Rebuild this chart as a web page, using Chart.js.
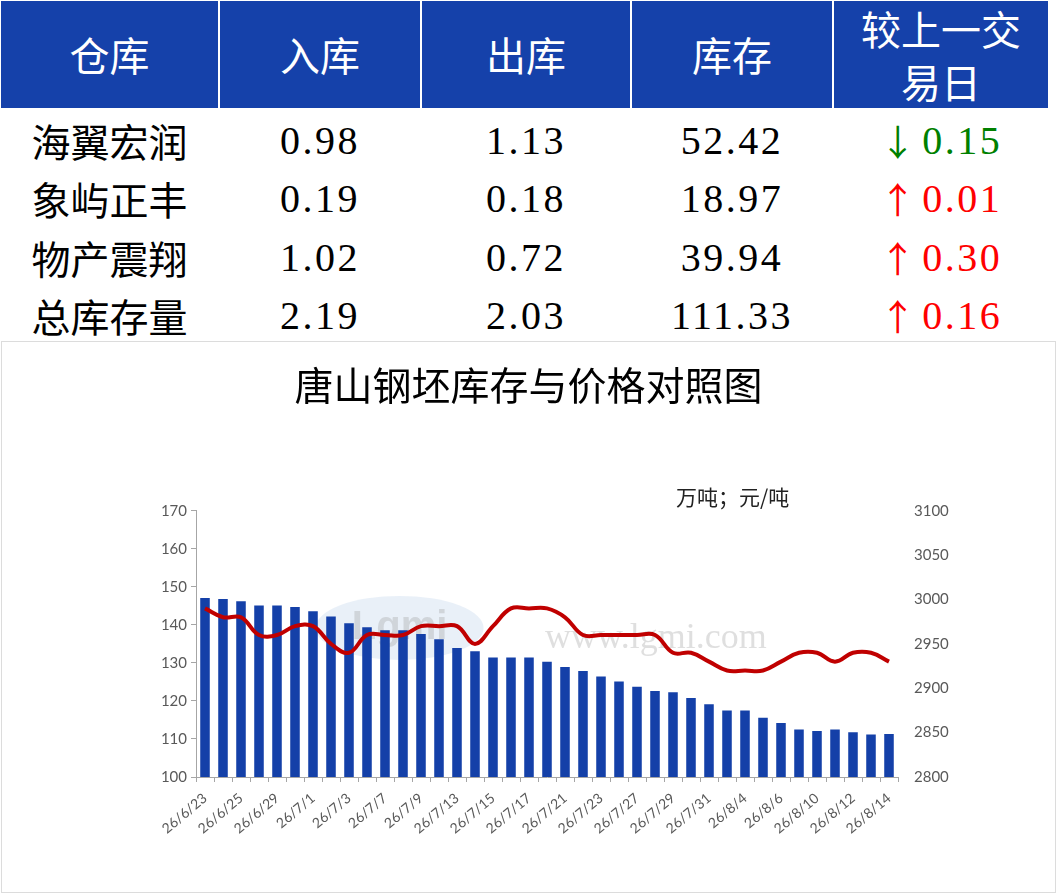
<!DOCTYPE html>
<html>
<head>
<meta charset="utf-8">
<script src="https://cdn.jsdelivr.net/npm/chart.js@4"></script>
<style>
  body { margin: 0; background: #fff; width: 1057px; height: 895px; position: relative; overflow: hidden; }
  .cell { position: absolute; display: flex; align-items: center; justify-content: center; text-align: center; }
  .head { background: #1541aa; color: #fff; font-family: "Noto Sans CJK SC", sans-serif; font-size: 40px; line-height: 53px; top: 1px; height: 107px; }
  .name { font-family: "Noto Sans CJK SC", sans-serif; font-size: 39px; color: #000; }
  .num { font-family: "Liberation Serif", serif; font-size: 40px; letter-spacing: 2.5px; color: #000; }
  .up { color: #ff0000; }
  .down { color: #008000; }
  .arrow { font-family: "Noto Sans CJK SC", sans-serif; font-size: 36px; margin-right: 4px; }
  #box { position: absolute; left: 1px; top: 341px; width: 1053px; height: 550px; border: 1px solid #dcdcdc; }
</style>
</head>
<body>
<div id="table"></div>
<div id="box"><canvas id="chart"></canvas></div>
<script>
// table data
const headers = ['仓库', '入库', '出库', '库存', '较上一交<br>易日'];
const warehouses = ['海翼宏润', '象屿正丰', '物产震翔', '总库存量'];
const inbound = ['0.98', '0.19', '1.02', '2.19'];
const outbound = ['1.13', '0.18', '0.72', '2.03'];
const inventory = ['52.42', '18.97', '39.94', '111.33'];
const change = [-0.15, 0.01, 0.30, 0.16];

// chart data
const dates = ['26/6/23', '26/6/24', '26/6/25', '26/6/26', '26/6/29', '26/6/30',
  '26/7/1', '26/7/2', '26/7/3', '26/7/6', '26/7/7', '26/7/8', '26/7/9', '26/7/10',
  '26/7/13', '26/7/14', '26/7/15', '26/7/16', '26/7/17', '26/7/20', '26/7/21',
  '26/7/22', '26/7/23', '26/7/24', '26/7/27', '26/7/28', '26/7/29', '26/7/30',
  '26/7/31', '26/8/3', '26/8/4', '26/8/5', '26/8/6', '26/8/7', '26/8/10',
  '26/8/11', '26/8/12', '26/8/13', '26/8/14'];
const stock = [147.1, 146.8, 146.2, 145.1, 145.1, 144.7, 143.6, 142.2, 140.4, 139.4,
  138.6, 138.6, 137.6, 136.2, 133.9, 133.1, 131.4, 131.4, 131.4, 130.3,
  128.9, 127.9, 126.4, 125.1, 123.7, 122.6, 122.3, 120.8, 119.1, 117.5,
  117.5, 115.6, 114.2, 112.5, 112.1, 112.5, 111.8, 111.17, 111.33];
const price = [2990, 2980, 2980, 2960, 2960, 2970, 2970, 2950, 2940, 2960,
  2960, 2960, 2970, 2970, 2970, 2950, 2970, 2990, 2990, 2990,
  2980, 2960, 2960, 2960, 2960, 2960, 2940, 2940, 2930, 2920,
  2920, 2920, 2930, 2940, 2940, 2930, 2940, 2940, 2930];

// build the table
const colX = [1, 220, 422, 632, 834];
const colW = [217, 200, 208, 200, 214];
const rowTop = [111, 169, 228, 286];
const rowH = 58;
const tbl = document.getElementById('table');
let html = '';
headers.forEach(function (h, i) {
  html += '<div class="cell head" style="left:' + colX[i] + 'px;width:' + colW[i] + 'px">' + h + '</div>';
});
warehouses.forEach(function (w, r) {
  const top = rowTop[r];
  const vals = [inbound[r], outbound[r], inventory[r]];
  html += '<div class="cell name" style="left:' + colX[0] + 'px;width:' + colW[0] + 'px;top:' + top + 'px;height:' + rowH + 'px">' + w + '</div>';
  vals.forEach(function (v, k) {
    html += '<div class="cell num" style="left:' + colX[k + 1] + 'px;width:' + colW[k + 1] + 'px;top:' + top + 'px;height:' + rowH + 'px">' + v + '</div>';
  });
  const c = change[r];
  const cls = c < 0 ? 'down' : 'up';
  const arr = c < 0 ? '↓' : '↑';
  html += '<div class="cell num ' + cls + '" style="left:' + colX[4] + 'px;width:' + colW[4] + 'px;top:' + top + 'px;height:' + rowH + 'px"><span class="arrow">' + arr + '</span>' + Math.abs(c).toFixed(2) + '</div>';
});
tbl.innerHTML = html;

// unit label and watermark
const extras = {
  id: 'extras',
  beforeDatasetsDraw(chart) {
    const ctx = chart.ctx;
    const a = chart.chartArea;
    const cx = a.left + (a.right - a.left) * 0.29;
    const cy = a.top + (a.bottom - a.top) * 0.44;
    ctx.save();
    ctx.fillStyle = 'rgba(120,160,210,0.16)';
    ctx.beginPath();
    ctx.ellipse(cx, cy, 84, 32, 0, 0, Math.PI * 2);
    ctx.fill();
    ctx.font = 'bold 40px "Liberation Sans", sans-serif';
    ctx.textAlign = 'center';
    ctx.textBaseline = 'middle';
    ctx.fillStyle = 'rgba(150,150,150,0.3)';
    ctx.fillText('Lgmi', cx, cy);
    ctx.font = '36px "Liberation Serif", serif';
    ctx.fillStyle = 'rgba(150,150,150,0.3)';
    ctx.fillText('www.lgmi.com', a.left + (a.right - a.left) * 0.655, a.top + (a.bottom - a.top) * 0.48);
    ctx.restore();
  },
  afterDraw(chart) {
    const ctx = chart.ctx;
    const a = chart.chartArea;
    ctx.save();
    ctx.font = '21px "Noto Sans CJK SC", sans-serif';
    ctx.fillStyle = '#222';
    ctx.textAlign = 'left';
    ctx.textBaseline = 'middle';
    ctx.fillText('万吨；元/吨', a.right - 222, a.top - 14);
    ctx.restore();
  }
};

const axisGray = '#a6a6a6';
const tickFont = { family: 'Lato, sans-serif', size: 15 };

const canvas = document.getElementById('chart');
const myChart = new Chart(canvas, {
  type: 'bar',
  data: {
    labels: dates,
    datasets: [{
      label: '库存',
      data: stock,
      yAxisID: 'y',
      backgroundColor: '#1440a8',
      barPercentage: 0.53,
      categoryPercentage: 1,
      order: 2
    }, {
      type: 'line',
      label: '价格',
      data: price,
      yAxisID: 'y1',
      borderColor: '#c00000',
      borderWidth: 4,
      tension: 0.4,
      pointRadius: 0,
      fill: false,
      order: 1
    }]
  },
  plugins: [extras],
  options: {
    responsive: true,
    maintainAspectRatio: false,
    animation: false,
    layout: { padding: 0 },
    plugins: {
      legend: { display: false },
      tooltip: { enabled: false },
      title: {
        display: true,
        text: '唐山钢坯库存与价格对照图',
        color: '#000',
        font: { family: '"Noto Sans CJK SC", sans-serif', size: 39, weight: 'normal', lineHeight: 1.2 },
        padding: { top: 20, bottom: 102 }
      }
    },
    scales: {
      x: {
        offset: true,
        grid: { display: true, offset: true, drawOnChartArea: false, tickLength: 5, color: axisGray },
        border: { display: true, color: axisGray },
        ticks: {
          autoSkip: false,
          minRotation: 40,
          maxRotation: 40,
          padding: 8,
          color: '#595959',
          font: { family: 'Lato, sans-serif', size: 14 },
          callback: function (v, i) { return i % 2 === 0 ? dates[i] : ''; }
        },
        afterFit: function (s) { s.height = 115; }
      },
      y: {
        position: 'left',
        min: 100,
        max: 170,
        grid: { display: true, drawOnChartArea: false, tickLength: 5, color: axisGray },
        border: { display: true, color: axisGray },
        ticks: { stepSize: 10, color: '#595959', font: tickFont, padding: 4 },
        afterFit: function (s) { s.width = 194; }
      },
      y1: {
        position: 'right',
        min: 2800,
        max: 3100,
        grid: { display: false },
        border: { display: false },
        ticks: {
          stepSize: 50,
          color: '#595959',
          font: tickFont,
          padding: 8,
          callback: function (v) { return String(v); }
        },
        afterFit: function (s) { s.width = 157; }
      }
    }
  }
});
</script>
</body>
</html>
